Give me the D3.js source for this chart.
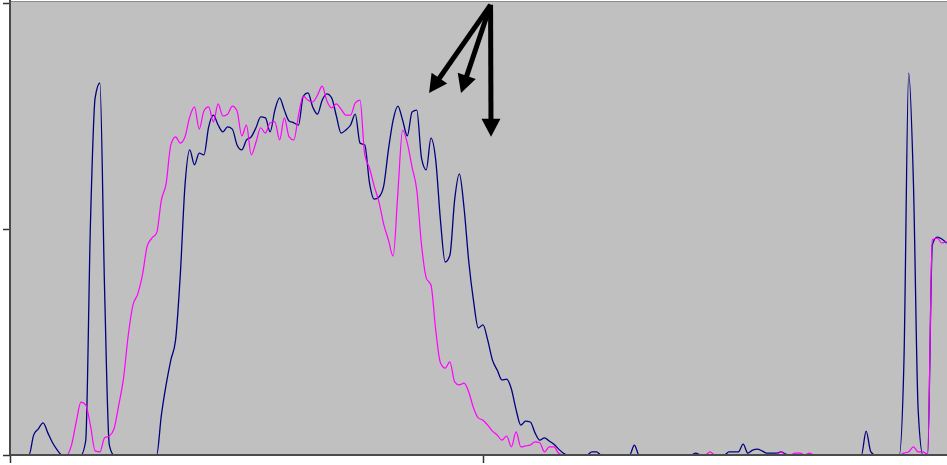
<!DOCTYPE html>
<html>
<head>
<meta charset="utf-8">
<script src="https://cdn.jsdelivr.net/npm/d3@7"></script>
<style>
  html, body { margin: 0; padding: 0; background: #ffffff; overflow: hidden; }
  svg { display: block; }
</style>
</head>
<body>
<svg id="chart" width="947" height="465"></svg>
<script>
// Axis ticks (unlabelled)
const xTicks = [0, 200];
const yTicks = [0, 50, 100];

// Samples are spaced 2 x-units apart, starting at x = 0
const sampleStep = 2;

// Series 1 (navy)
const navySeries = [
  0, 0, 0, 0, 0,
  4.4, 5.8, 7.1, 4.9, 2.7, 1.1,
  0, 0, 0, 0, 0,
  3.1, 50.9, 79.0, 82.3, 36.5, 2.2,
  0, 0, 0, 0, 0, 0, 0, 0, 0, 0,
  8.8, 15.5, 21.0, 25.4, 39.8, 59.7, 67.5, 64.2, 66.8, 66.4,
  72.6, 75.2, 73.0, 71.5, 72.6, 72.1, 68.6, 67.5, 69.7, 70.4,
  72.4, 74.8, 74.6, 71.5, 76.3, 79.0, 76.3, 73.9, 73.5, 73.0,
  79.4, 80.1, 77.0, 75.4, 78.5, 79.9, 79.0, 75.0, 71.2, 71.9,
  73.0, 75.4, 69.0, 68.6, 60.2, 56.6, 57.1, 59.5, 67.5, 74.1,
  77.2, 74.1, 70.6, 75.9, 76.3, 65.7, 63.1, 70.1, 65.3, 52.0,
  42.7, 44.2, 56.4, 62.2, 54.6, 42.7, 34.1, 28.1, 28.8, 25.4,
  21.0, 18.8, 16.6, 16.8, 14.6, 10.0, 6.6, 7.5, 7.3, 4.9,
  3.3, 3.8, 3.1, 2.4, 1.3, 0.4, 0, 0, 0, 0,
  0, 0.7, 0.7, 0, 0, 0, 0, 0, 0, 0,
  2.2, 0, 0, 0, 0, 0, 0, 0, 0, 0,
  0, 0, 0, 0.4, 0, 0, 0, 0, 0, 0,
  0.7, 0.7, 0.7, 2.4, 0.4, 1.1, 1.3, 0.9, 0.4, 0.4,
  0.4, 0.7, 0.2, 0, 0, 0, 0, 0, 0, 0,
  0, 0, 0, 0, 0, 0, 0, 0, 0, 5.3,
  0.7, 0, 0, 0, 0, 0, 0, 21.0, 84.5, 60.2,
  10.0, 0, 0, 46.5, 48.2, 47.8, 46.9
];

// Series 2 (magenta)
const magentaSeries = [
  0, 0, 0, 0, 0, 0, 0, 0, 0, 0, 0, 0, 0,
  2.2, 7.3, 11.7, 11.1, 6.6, 0.9, 0.7, 3.8, 4.2, 5.8,
  11.1, 17.0, 26.5, 33.2, 35.6, 39.8, 46.2, 48.0, 49.1, 56.4,
  60.0, 68.6, 70.4, 69.0, 70.4, 74.8, 77.0, 72.1, 76.1, 77.0,
  73.7, 77.7, 75.0, 75.4, 77.2, 76.1, 70.6, 73.0, 66.4, 69.2,
  72.4, 71.2, 73.5, 73.7, 69.7, 74.6, 70.4, 69.7, 75.2, 79.4,
  78.5, 78.1, 79.6, 81.6, 78.3, 76.8, 77.7, 76.5, 75.2, 75.2,
  77.9, 78.5, 66.4, 63.5, 59.5, 56.0, 51.1, 47.6, 44.0, 58.0,
  71.9, 69.0, 63.7, 58.6, 46.5, 39.2, 37.6, 27.7, 20.4, 19.2,
  20.6, 16.2, 15.5, 15.9, 13.9, 10.4, 8.2, 7.7, 6.6, 5.3,
  4.4, 3.3, 4.2, 1.8, 5.1, 1.8, 2.0, 2.2, 2.9, 2.7,
  0.7, 1.8, 1.8, 0.4, 0, 0, 0, 0, 0, 0,
  0, 0, 0, 0, 0, 0, 0, 0, 0, 0,
  0, 0, 0, 0, 0, 0, 0, 0, 0, 0,
  0, 0, 0, 0, 0, 0.7, 0, 0, 0, 0,
  0, 0, 0, 0, 0, 0, 0, 0, 0, 0,
  0.7, 0, 0, 0.4, 0.4, 0, 0.4, 0, 0, 0,
  0, 0, 0, 0, 0, 0, 0, 0, 0, 0,
  0, 0, 0, 0, 0, 0, 0.4, 0.7, 1.8, 0.7,
  0.7, 0.2, 47.6, 48.0, 46.9, 47.3
];

// Annotation arrows: shared tail point and three heads, in data units
const arrowTail = [203.2, 99.6];
const arrowHeads = [[177.2, 80.1], [190.7, 80.1], [203.4, 70.4]];

const plotLeft = 10, plotTop = 1, plotBottom = 455, plotRight = 947;

const x = d3.scaleLinear().domain([0, 400]).range([10, 956]);
const y = d3.scaleLinear().domain([0, 100]).range([455, 3]);

const svg = d3.select('#chart');

svg.append('defs').append('clipPath').attr('id', 'plotClip')
  .append('rect')
  .attr('x', plotLeft).attr('y', plotTop)
  .attr('width', plotRight - plotLeft).attr('height', plotBottom - plotTop);

// Plot area
svg.append('rect')
  .attr('x', plotLeft).attr('y', plotTop)
  .attr('width', plotRight - plotLeft).attr('height', plotBottom - plotTop)
  .attr('fill', '#c0c0c0');

svg.append('line')
  .attr('x1', plotLeft).attr('x2', plotRight)
  .attr('y1', plotTop + 0.5).attr('y2', plotTop + 0.5)
  .attr('stroke', '#8a8a8a').attr('stroke-width', 1);

// Series lines (smoothed)
const line = d3.line()
  .curve(d3.curveMonotoneX)
  .x((d, i) => x(i * sampleStep))
  .y(d => y(d));

const lines = svg.append('g').attr('clip-path', 'url(#plotClip)');
lines.append('path')
  .datum(navySeries)
  .attr('fill', 'none')
  .attr('stroke', '#000080')
  .attr('stroke-width', 1.3)
  .attr('stroke-linejoin', 'round')
  .attr('d', line);
lines.append('path')
  .datum(magentaSeries)
  .attr('fill', 'none')
  .attr('stroke', '#ff00ff')
  .attr('stroke-width', 1.2)
  .attr('stroke-linejoin', 'round')
  .attr('d', line);

// Axes
const yAxis = d3.axisLeft(y).tickValues(yTicks).tickSize(7).tickFormat('');
const gy = svg.append('g').attr('transform', `translate(${plotLeft},0)`).call(yAxis);
gy.select('.domain').remove();
gy.selectAll('.tick line').attr('stroke', '#333').attr('stroke-width', 1.5);

const xAxis = d3.axisBottom(x).tickValues(xTicks).tickSize(8).tickFormat('');
const gx = svg.append('g').attr('transform', `translate(0,${plotBottom})`).call(xAxis);
gx.select('.domain').remove();
gx.selectAll('.tick line').attr('stroke', '#333').attr('stroke-width', 1.5);

svg.append('line')
  .attr('x1', plotLeft).attr('x2', plotRight)
  .attr('y1', plotBottom).attr('y2', plotBottom)
  .attr('stroke', '#4a4a4a').attr('stroke-width', 2);
svg.append('line')
  .attr('x1', plotLeft).attr('x2', plotLeft)
  .attr('y1', plotTop - 1).attr('y2', plotBottom)
  .attr('stroke', '#4a4a4a').attr('stroke-width', 2);

// Arrows
const headLen = 18, headHalf = 9.5, shaftWidth = 5;
const tx = x(arrowTail[0]), ty = y(arrowTail[1]);
const arrows = svg.append('g');
arrowHeads.forEach(([hxv, hyv]) => {
  const hx = x(hxv), hy = y(hyv);
  const dx = hx - tx, dy = hy - ty;
  const len = Math.hypot(dx, dy);
  const ux = dx / len, uy = dy / len;
  const bx = hx - ux * headLen, by = hy - uy * headLen;
  arrows.append('line')
    .attr('x1', tx).attr('y1', ty)
    .attr('x2', bx + ux).attr('y2', by + uy)
    .attr('stroke', '#000').attr('stroke-width', shaftWidth);
  arrows.append('polygon')
    .attr('points', [
      [hx, hy],
      [bx - uy * headHalf, by + ux * headHalf],
      [bx + uy * headHalf, by - ux * headHalf]
    ].map(p => p.join(',')).join(' '))
    .attr('fill', '#000');
});
</script>
</body>
</html>
